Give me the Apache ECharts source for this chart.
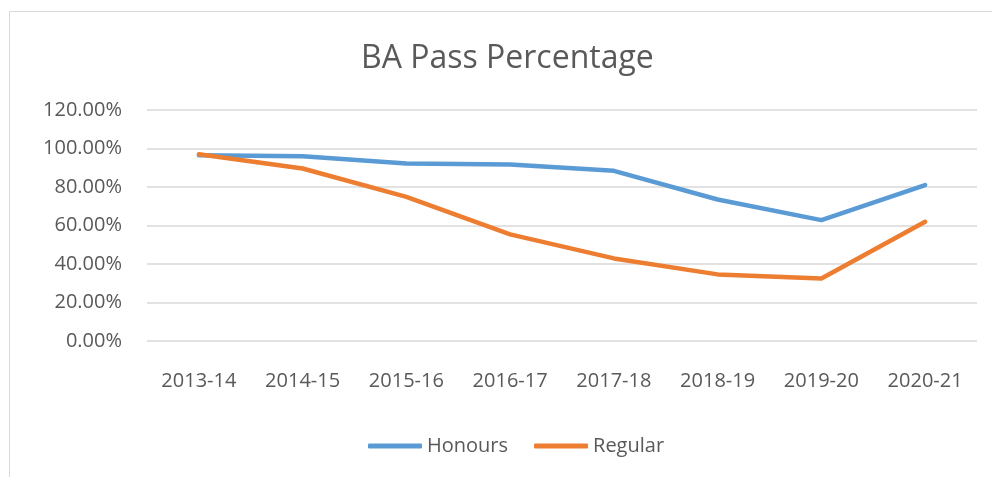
<!DOCTYPE html>
<html>
<head>
<meta charset="utf-8">
<script src="https://cdn.jsdelivr.net/npm/echarts@6/dist/echarts.min.js"></script>
<style>
html,body{margin:0;padding:0;background:#fff;}
#chart{width:992px;height:477px;}
</style>
</head>
<body>
<div id="chart"></div>
<script>
const categories = ['2013-14','2014-15','2015-16','2016-17','2017-18','2018-19','2019-20','2020-21'];
const honours = [0.965, 0.960, 0.922, 0.917, 0.884, 0.735, 0.628, 0.810];
const regular = [0.970, 0.896, 0.749, 0.554, 0.429, 0.346, 0.325, 0.619];
const yTicks = { min: 0, max: 1.2, interval: 0.2 };

const FONT = 'Open Sans';
const TXT = '#595959';
const chart = echarts.init(document.getElementById('chart'), null, { renderer: 'canvas' });
chart.setOption({
  backgroundColor: '#ffffff',
  animation: false,
  title: {
    text: 'BA Pass Percentage',
    left: 356,
    top: 38,
    textStyle: { fontFamily: FONT, fontSize: 32, fontWeight: 'normal', color: TXT }
  },
  graphic: [{
    type: 'rect',
    shape: { x: 9.5, y: 11.5, width: 1100, height: 600 },
    style: { fill: 'none', stroke: '#d9d9d9', lineWidth: 1 },
    silent: true
  }],
  legend: {
    left: 363,
    top: 431,
    itemWidth: 54,
    itemHeight: 5,
    itemGap: 26,
    icon: 'roundRect',
    textStyle: { fontFamily: FONT, fontSize: 20, color: TXT },
    data: ['Honours', 'Regular']
  },
  grid: { left: 147, right: 15, top: 110, bottom: 136, containLabel: false },
  xAxis: {
    type: 'category',
    data: categories,
    boundaryGap: true,
    axisLine: { show: false },
    axisTick: { show: false },
    axisLabel: { fontFamily: FONT, fontSize: 20, color: TXT, margin: 30 }
  },
  yAxis: {
    type: 'value',
    min: yTicks.min, max: yTicks.max, interval: yTicks.interval,
    axisLine: { show: false },
    axisTick: { show: false },
    splitLine: { lineStyle: { color: '#d9d9d9', width: 1.5 } },
    axisLabel: {
      fontFamily: FONT, fontSize: 20, color: TXT, margin: 25,
      formatter: v => (v * 100).toFixed(2) + '%'
    }
  },
  series: [
    {
      name: 'Honours', type: 'line', data: honours, symbol: 'none',
      itemStyle: { color: '#5b9bd5' },
      lineStyle: { color: '#5b9bd5', width: 4.5, cap: 'round', join: 'round' }
    },
    {
      name: 'Regular', type: 'line', data: regular, symbol: 'none',
      itemStyle: { color: '#ed7d31' },
      lineStyle: { color: '#ed7d31', width: 4.5, cap: 'round', join: 'round' }
    }
  ]
});
</script>
</body>
</html>
